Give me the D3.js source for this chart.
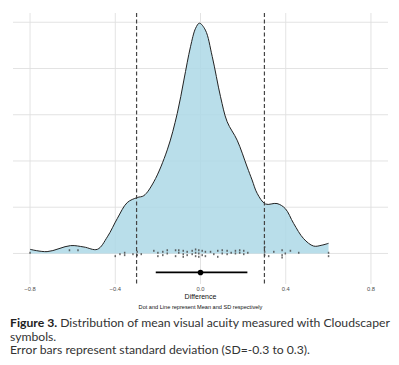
<!DOCTYPE html>
<html>
<head>
<meta charset="utf-8">
<script src="https://cdn.jsdelivr.net/npm/d3@7"></script>
<style>
  body { margin: 0; background: #fff; }
  svg { display: block; }
</style>
</head>
<body>
<script>
//Density curve of the differences
var densX = [-0.80, -0.72, -0.61, -0.547, -0.484, -0.437, -0.39, -0.344, -0.297, -0.266, -0.219,
             -0.156, -0.109, -0.078, -0.047, -0.023, -0.005, 0.023, 0.055, 0.094, 0.125, 0.172,
             0.219, 0.242, 0.266, 0.305, 0.359, 0.398, 0.437, 0.484, 0.531, 0.570, 0.601];
var densY = [0.09, 0.04, 0.17, 0.14, 0.09, 0.36, 0.76, 1.10, 1.21, 1.25, 1.55,
             2.24, 3.03, 3.75, 4.47, 4.87, 4.98, 4.83, 4.26, 3.39, 2.85, 2.45,
             1.87, 1.59, 1.30, 1.07, 1.08, 0.97, 0.65, 0.32, 0.16, 0.18, 0.22];

//Jittered individual observations
var pointX = [-0.80, -0.615, -0.575, -0.40, -0.378, -0.356, -0.356, -0.317, -0.297, -0.297, -0.278,
              -0.219, -0.20, -0.20, -0.177, -0.177, -0.156, -0.156, -0.117, -0.117, -0.102, -0.102,
              -0.081, -0.081, -0.081, -0.0625, -0.0625, -0.039, -0.039, -0.023, -0.023, -0.023,
              -0.008, -0.008, -0.008, 0.008, 0.008, 0.023, 0.023, 0.047, 0.0625, 0.081, 0.081,
              0.102, 0.102, 0.125, 0.125, 0.144, 0.164, 0.164, 0.184, 0.184, 0.203, 0.203, 0.222,
              0.301, 0.301, 0.301, 0.32, 0.344, 0.383, 0.383, 0.383, 0.398, 0.422, 0.461, 0.601, 0.601];
var pointJit = [0.015, 0.07, 0.07, -0.058, -0.015, 0.015, -0.036, -0.015, 0.036, -0.036, -0.015,
                0.058, 0.015, -0.058, 0.036, -0.036, 0.07, 0.0, 0.07, -0.058, 0.07, 0.015,
                0.058, -0.015, -0.072, 0.036, -0.036, 0.058, -0.015, 0.087, 0.015, -0.058,
                0.07, 0.0, -0.072, 0.058, -0.036, 0.036, -0.058, 0.036, -0.015, 0.058, -0.072,
                0.07, 0.0, 0.058, -0.015, 0.015, 0.058, 0.0, 0.07, 0.015, 0.058, -0.015, 0.015,
                0.14, 0.036, -0.036, -0.058, 0.036, 0.07, -0.036, -0.087, 0.0, 0.058, 0.015, 0.015, -0.058];

//Mean and SD bar, dashed reference lines, ticks
var meanVal = 0.0, sdLow = -0.21, sdHigh = 0.22;
var refLines = [-0.3, 0.3];
var xTicks = [-0.8, -0.4, 0.0, 0.4, 0.8];
var yGrid = [0, 1, 2, 3, 4, 5];
var barLevel = -0.41;

var captionBold = "Figure 3.";
var captionLines = [" Distribution of mean visual acuity measured with Cloudscaper",
                    "symbols.",
                    "Error bars represent standard deviation (SD=-0.3 to 0.3)."];

var W = 399, H = 365;
var panel = {left: 13, right: 388, top: 13, bottom: 284};

var svg = d3.select("body").append("svg")
    .attr("width", W)
    .attr("height", H);

var xScale = d3.scaleLinear().domain([-0.88, 0.88]).range([panel.left, panel.right]);
var yScale = d3.scaleLinear().domain([-0.66, 5.2]).range([panel.bottom, panel.top]);

//Grid lines
svg.append("g").selectAll("line")
    .data(yGrid).enter().append("line")
    .attr("x1", panel.left).attr("x2", panel.right)
    .attr("y1", function(d) { return yScale(d); })
    .attr("y2", function(d) { return yScale(d); })
    .attr("stroke", "#e0e0e0").attr("stroke-width", 0.9);

svg.append("g").selectAll("line")
    .data(xTicks).enter().append("line")
    .attr("x1", function(d) { return xScale(d); })
    .attr("x2", function(d) { return xScale(d); })
    .attr("y1", panel.top).attr("y2", panel.bottom)
    .attr("stroke", "#e0e0e0").attr("stroke-width", 0.9);

//Density
var dens = densX.map(function(x, i) { return {x: x, y: densY[i]}; });

var area = d3.area()
    .x(function(d) { return xScale(d.x); })
    .y0(yScale(0))
    .y1(function(d) { return yScale(d.y); })
    .curve(d3.curveCatmullRom);

var line = d3.line()
    .x(function(d) { return xScale(d.x); })
    .y(function(d) { return yScale(d.y); })
    .curve(d3.curveCatmullRom);

svg.append("path").datum(dens)
    .attr("d", area)
    .attr("fill", "#add8e6")
    .attr("fill-opacity", 0.85);

svg.append("path").datum(dens)
    .attr("d", line)
    .attr("fill", "none")
    .attr("stroke", "#222")
    .attr("stroke-width", 1);

//Jittered points
svg.append("g").selectAll("rect")
    .data(pointX).enter().append("rect")
    .attr("x", function(d) { return xScale(d) - 0.75; })
    .attr("y", function(d, i) { return yScale(pointJit[i]) - 1; })
    .attr("width", 1.5).attr("height", 2)
    .attr("fill", "#444")
    .attr("fill-opacity", 0.8);

//Dashed SD lines
svg.append("g").selectAll("line")
    .data(refLines).enter().append("line")
    .attr("x1", function(d) { return xScale(d); })
    .attr("x2", function(d) { return xScale(d); })
    .attr("y1", panel.top).attr("y2", panel.bottom)
    .attr("stroke", "#444").attr("stroke-width", 1.2)
    .attr("stroke-dasharray", "4,2.5");

//Mean dot and SD line
svg.append("line")
    .attr("x1", xScale(sdLow)).attr("x2", xScale(sdHigh))
    .attr("y1", yScale(barLevel)).attr("y2", yScale(barLevel))
    .attr("stroke", "#000").attr("stroke-width", 1.8);

svg.append("circle")
    .attr("cx", xScale(meanVal)).attr("cy", yScale(barLevel))
    .attr("r", 2.8).attr("fill", "#000");

//Tick labels
svg.append("g").selectAll("text")
    .data(xTicks).enter().append("text")
    .attr("x", function(d) { return xScale(d); })
    .attr("y", 291)
    .attr("text-anchor", "middle")
    .style("font-family", "Liberation Sans, Arial, sans-serif")
    .style("font-size", "5.8px")
    .style("fill", "#4d4d4d")
    .text(function(d) { return d3.format(".1f")(d); });

//Axis title and subtitle
svg.append("text")
    .attr("x", xScale(0)).attr("y", 298.5)
    .attr("text-anchor", "middle")
    .style("font-family", "Liberation Sans, Arial, sans-serif")
    .style("font-size", "7px")
    .style("fill", "#111")
    .text("Difference");

svg.append("text")
    .attr("x", xScale(0)).attr("y", 308.5)
    .attr("text-anchor", "middle")
    .style("font-family", "Liberation Sans, Arial, sans-serif")
    .style("font-size", "5.6px")
    .style("fill", "#111")
    .text("Dot and Line represent Mean and SD respectively");

//Caption
var cap = svg.append("g")
    .style("font-family", "Lato, 'Open Sans', sans-serif")
    .style("font-size", "11px")
    .style("fill", "#333");

var l1 = cap.append("text").attr("x", 10).attr("y", 327);
l1.append("tspan").style("font-weight", "bold").style("fill", "#222").text(captionBold);
l1.append("tspan").text(captionLines[0]);
cap.append("text").attr("x", 10).attr("y", 340.5).text(captionLines[1]);
cap.append("text").attr("x", 10).attr("y", 354).text(captionLines[2]);

//Scale caption font so that the first line spans the same width as the figure
var w1 = l1.node().getComputedTextLength();
cap.style("font-size", (11 * 380 / w1) + "px");
</script>
</body>
</html>
